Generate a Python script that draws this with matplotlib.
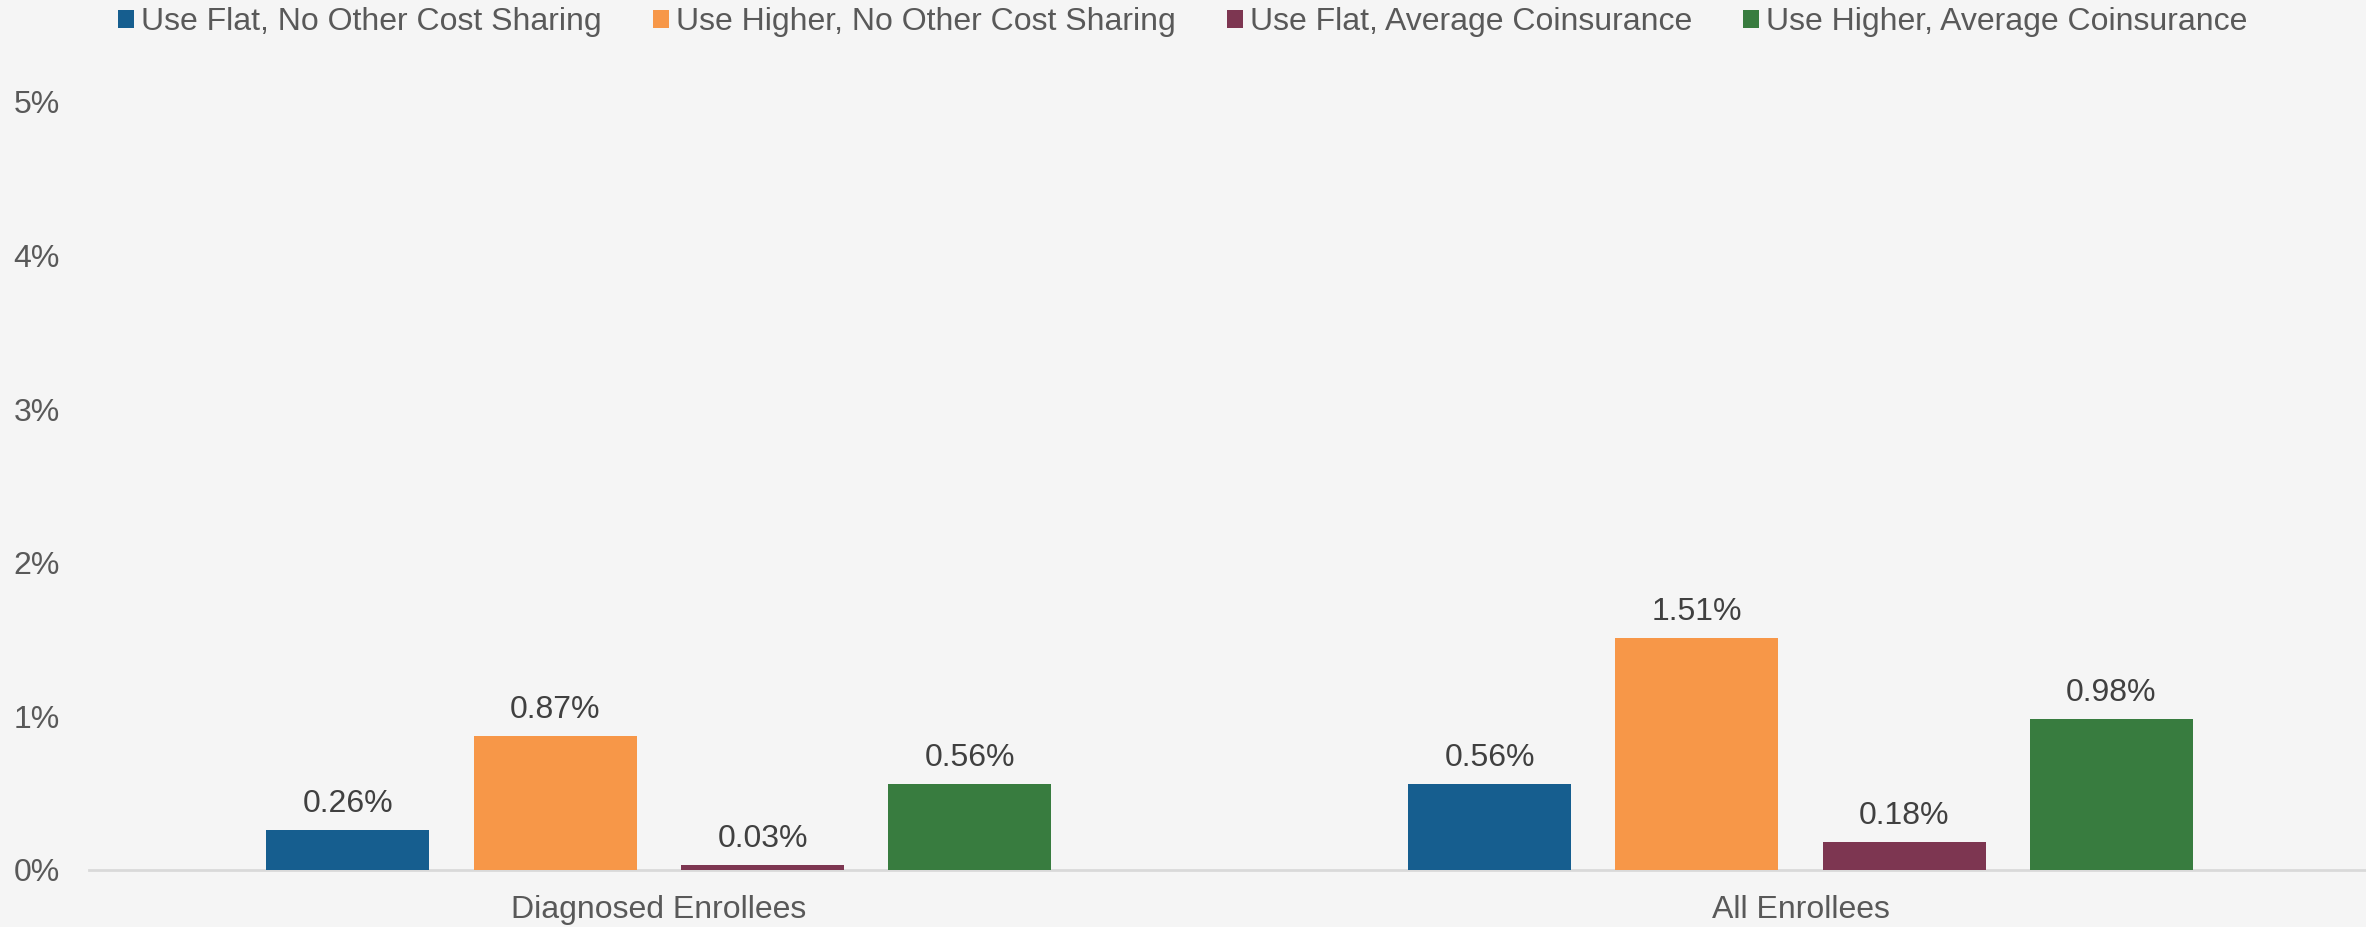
import numpy as np
import matplotlib
matplotlib.use("Agg")
import matplotlib.pyplot as plt
from matplotlib.ticker import FuncFormatter

plt.rcParams['font.family'] = ['Liberation Sans', 'DejaVu Sans']

groups = ["Diagnosed Enrollees", "All Enrollees"]
series = ["Use Flat, No Other Cost Sharing", "Use Higher, No Other Cost Sharing",
          "Use Flat, Average Coinsurance", "Use Higher, Average Coinsurance"]
flat_none = [0.26, 0.56]
higher_none = [0.87, 1.51]
flat_coins = [0.03, 0.18]
higher_coins = [0.56, 0.98]
colors = ["#165E8F", "#F79748", "#7D3651", "#387C3F"]

bg = "#F5F5F5"
txt = "#595959"

fig = plt.figure(figsize=(23.66, 9.27), dpi=100, facecolor=bg)
ax = fig.add_axes([0.0376, 0.0615, 0.9624, 0.8285], facecolor=bg)

x = np.arange(len(groups))
w = 0.1428
step = 0.1816
for i, (vals, name, c) in enumerate(zip([flat_none, higher_none, flat_coins, higher_coins], series, colors)):
    pos = x + (i - 1.5) * step
    bars = ax.bar(pos, vals, width=w, color=c, label=name, zorder=3)
    for b, v in zip(bars, vals):
        ax.annotate(f"{v:.2f}%", (b.get_x() + b.get_width() / 2, v),
                    xytext=(0, 8), textcoords="offset points",
                    ha="center", va="bottom", fontsize=23, color="#404040")

ax.set_xlim(-0.4993, 1.4954)
ax.set_ylim(0, 5)
ax.set_yticks(range(0, 6))
ax.yaxis.set_major_formatter(FuncFormatter(lambda v, p: f"{v:.0f}%"))
ax.set_xticks(x)
ax.set_xticklabels(groups)
ax.tick_params(axis="both", length=0, labelsize=23, labelcolor=txt)
ax.tick_params(axis="y", pad=21)
ax.tick_params(axis="x", pad=18)

for s in ["top", "right", "left"]:
    ax.spines[s].set_visible(False)
ax.spines["bottom"].set_color("#D9D9D9")
ax.spines["bottom"].set_linewidth(2)

fig.legend(loc="center", bbox_to_anchor=(0.5, 0.976), ncol=4, frameon=False,
           fontsize=23, labelcolor=txt, handlelength=0.5, handleheight=0.5,
           handletextpad=0.22, columnspacing=1.6, borderaxespad=0)

fig.savefig("out.png", dpi=100, facecolor=bg)
